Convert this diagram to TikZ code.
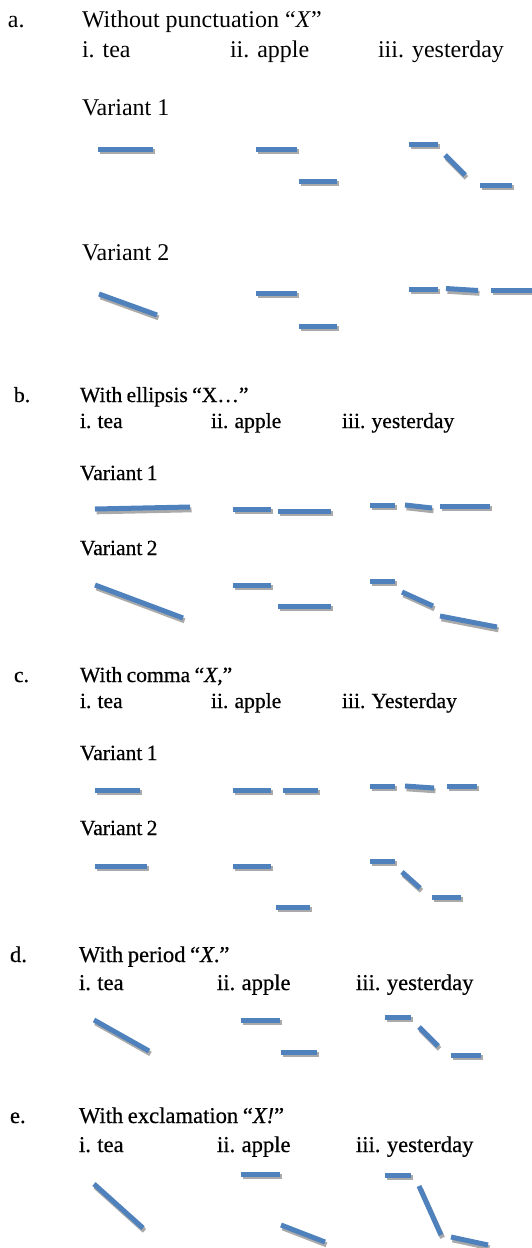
\documentclass[tikz,border=0pt]{standalone}
\usepackage{fontspec}
\setmainfont{Liberation Serif}
\newfontfamily\heavyserif[FakeBold=0.5,WordSpace=0.8]{Liberation Serif}
\definecolor{segblue}{RGB}{79,129,189}
\definecolor{segshadow}{RGB}{170,170,170}
\tikzset{
  segline/.style={line width=5pt, draw=segblue, line cap=butt},
  shadowline/.style={line width=5pt, draw=segshadow, line cap=butt},
  lbl/.style={anchor=base west, inner sep=0pt, outer sep=0pt},
  fa/.style={font=\fontsize{24}{28}\selectfont},
  fb/.style={font=\heavyserif\fontsize{21.6}{26}\selectfont},
  fd/.style={font=\heavyserif\fontsize{22.6}{27}\selectfont}
}
\newcommand\pseg[2]{%
  \draw[shadowline] ([shift={(1.5,2.8)}]#1) -- ([shift={(1.5,2.8)}]#2);
  \draw[segline] (#1) -- (#2);}
\begin{document}
\begin{tikzpicture}[x=1pt,y=-1pt]
\useasboundingbox (0,0) rectangle (532,1248);
% ---------- a ----------
\node[lbl,fa] (la) at (8,27) {a.};
\node[lbl,fa] (ta) at (82,27) {Without punctuation “\textit{X}”};
\node[lbl,fa] (a1) at (82,57) {i. tea};
\node[lbl,fa] (a2) at (230,57) {ii. apple};
\node[lbl,fa] (a3) at (378,57) {iii. yesterday};
\node[lbl,fa] (av1) at (82,115) {Variant 1};
\node[lbl,fa] (av2) at (82,260) {Variant 2};
\pseg{98,149}{153,149}
\pseg{256,149}{297,149}
\pseg{299,181}{337,181}
\pseg{409,144}{438,144}
\pseg{445,155}{465,175}
\pseg{480,185}{512,185}
\pseg{99,294}{157,315}
\pseg{256,293}{297,293}
\pseg{299,326}{337,326}
\pseg{409,289}{438,289}
\pseg{446,288.5}{478,290.5}
\pseg{491,290}{532,290}
% ---------- b ----------
\node[lbl,fb] (lb) at (14,402) {b.};
\node[lbl,fb] (tb) at (80,402) {With ellipsis “X…”};
\node[lbl,fb] (b1) at (80,428) {i. tea};
\node[lbl,fb] (b2) at (211,428) {ii. apple};
\node[lbl,fb] (b3) at (342,428) {iii. yesterday};
\node[lbl,fb] (bv1) at (80,480) {Variant 1};
\node[lbl,fb] (bv2) at (80,555) {Variant 2};
\pseg{95,509}{190,507}
\pseg{233,509}{271,509}
\pseg{278,511}{331,511}
\pseg{370,505}{395,505}
\pseg{405,505}{432,508}
\pseg{440,506}{490,506}
\pseg{95,585}{183,618}
\pseg{233,585}{271,585}
\pseg{278,606}{331,606}
\pseg{370,581}{395,581}
\pseg{402,592}{433,606}
\pseg{440,616}{497,627}
% ---------- c ----------
\node[lbl,fb] (lc) at (14,682) {c.};
\node[lbl,fb] (tc) at (80,682) {With comma “\textit{X},”};
\node[lbl,fb] (c1) at (80,708) {i. tea};
\node[lbl,fb] (c2) at (211,708) {ii. apple};
\node[lbl,fb] (c3) at (342,708) {iii. Yesterday};
\node[lbl,fb] (cv1) at (80,760) {Variant 1};
\node[lbl,fb] (cv2) at (80,835) {Variant 2};
\pseg{95,790}{140,790}
\pseg{233,790}{271,790}
\pseg{283,790}{318,790}
\pseg{370,786}{395,786}
\pseg{405,786}{434,788}
\pseg{447,786}{477,786}
\pseg{95,866}{147,866}
\pseg{233,866}{271,866}
\pseg{276,907}{310,907}
\pseg{370,861}{395,861}
\pseg{402,872}{420,888}
\pseg{432,897}{461,897}
% ---------- d ----------
\node[lbl,fd] (ld) at (10,962) {d.};
\node[lbl,fd] (td) at (79,962) {With period “\textit{X}.”};
\node[lbl,fd] (d1) at (79,990) {i. tea};
\node[lbl,fd] (d2) at (217,990) {ii. apple};
\node[lbl,fd] (d3) at (356,990) {iii. yesterday};
\pseg{94,1020}{149,1051}
\pseg{241,1020}{280,1020}
\pseg{281,1052}{317,1052}
\pseg{385,1017}{411,1017}
\pseg{419,1027}{438,1046}
\pseg{451,1055}{481,1055}
% ---------- e ----------
\node[lbl,fd] (le) at (10,1123) {e.};
\node[lbl,fd] (te) at (79,1123) {With exclamation “\textit{X!}”};
\node[lbl,fd] (e1) at (79,1152) {i. tea};
\node[lbl,fd] (e2) at (217,1152) {ii. apple};
\node[lbl,fd] (e3) at (356,1152) {iii. yesterday};
\pseg{94,1184}{143,1228}
\pseg{241,1174}{280,1174}
\pseg{281,1225}{325,1242}
\pseg{385,1175}{411,1175}
\pseg{419,1186}{441,1235}
\pseg{451,1237}{488,1245}
\end{tikzpicture}
\end{document}
